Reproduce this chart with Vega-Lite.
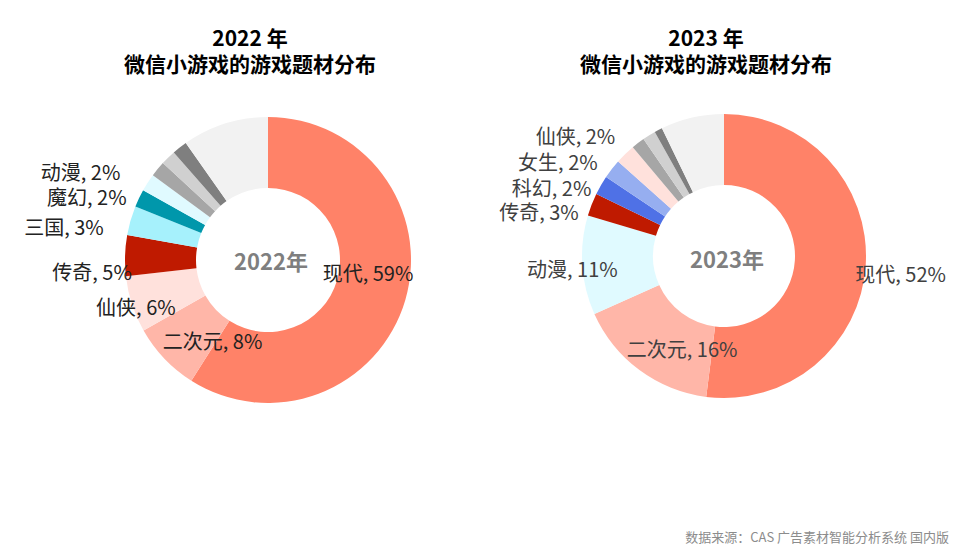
{
  "$schema": "https://vega.github.io/schema/vega-lite/v6.json",
  "padding": {"left": 5, "right": 5, "top": 29, "bottom": 5},
  "bounds": "flush",
  "spacing": 0,
  "background": "white",
  "config": {
    "view": {"stroke": null},
    "font": "Noto Sans CJK SC",
    "title": {"font": "Noto Sans CJK SC"},
    "text": {"font": "Noto Sans CJK SC"}
  },
  "title": {
    "text": "数据来源：CAS 广告素材智能分析系统 国内版",
    "orient": "bottom",
    "anchor": "end",
    "fontSize": 13,
    "fontWeight": "normal",
    "color": "#8c8c8c",
    "offset": 100,
    "dx": 3
  },
  "data": {
    "values": [
      {"year": 2022, "idx": 1, "category": "现代", "value": 59, "label": "现代, 59%"},
      {"year": 2022, "idx": 2, "category": "二次元", "value": 7.8, "label": "二次元, 8%"},
      {"year": 2022, "idx": 3, "category": "仙侠", "value": 6.4, "label": "仙侠, 6%"},
      {"year": 2022, "idx": 4, "category": "传奇", "value": 4.6, "label": "传奇, 5%"},
      {"year": 2022, "idx": 5, "category": "三国", "value": 3.3, "label": "三国, 3%"},
      {"year": 2022, "idx": 6, "category": "魔幻", "value": 2.0, "label": "魔幻, 2%"},
      {"year": 2022, "idx": 7, "category": "动漫", "value": 2.0, "label": "动漫, 2%"},
      {"year": 2022, "idx": 8, "category": "其他1", "value": 1.75, "label": ""},
      {"year": 2022, "idx": 9, "category": "其他2", "value": 1.7, "label": ""},
      {"year": 2022, "idx": 10, "category": "其他3", "value": 1.7, "label": ""},
      {"year": 2022, "idx": 11, "category": "其他4", "value": 9.75, "label": ""},
      {"year": 2023, "idx": 1, "category": "现代", "value": 52, "label": "现代, 52%"},
      {"year": 2023, "idx": 2, "category": "二次元", "value": 16.3, "label": "二次元, 16%"},
      {"year": 2023, "idx": 3, "category": "动漫", "value": 11.3, "label": "动漫, 11%"},
      {"year": 2023, "idx": 4, "category": "传奇", "value": 2.6, "label": "传奇, 3%"},
      {"year": 2023, "idx": 5, "category": "科幻", "value": 2.2, "label": "科幻, 2%"},
      {"year": 2023, "idx": 6, "category": "女生", "value": 2.2, "label": "女生, 2%"},
      {"year": 2023, "idx": 7, "category": "仙侠", "value": 2.3, "label": "仙侠, 2%"},
      {"year": 2023, "idx": 8, "category": "其他1", "value": 1.5, "label": ""},
      {"year": 2023, "idx": 9, "category": "其他2", "value": 1.5, "label": ""},
      {"year": 2023, "idx": 10, "category": "其他3", "value": 0.9, "label": ""},
      {"year": 2023, "idx": 11, "category": "其他4", "value": 7.2, "label": ""}
    ]
  },
  "hconcat": [
    {
      "width": 526,
      "height": 344,
      "title": {
        "text": ["2022 年", "微信小游戏的游戏题材分布"],
        "fontSize": 21,
        "lineHeight": 26,
        "fontWeight": "bold",
        "color": "#000000",
        "anchor": "middle",
        "dx": -18,
        "offset": 12
      },
      "layer": [
        {
          "transform": [{"filter": "datum.year == 2022"}],
          "mark": {"type": "arc", "outerRadius": 143, "innerRadius": 72},
          "encoding": {
            "theta": {"field": "value", "type": "quantitative", "stack": true},
            "order": {"field": "idx", "type": "quantitative"},
            "color": {
              "field": "category",
              "type": "nominal",
              "legend": null,
              "scale": {
                "domain": ["现代", "二次元", "仙侠", "传奇", "三国", "魔幻", "动漫", "科幻", "女生", "其他1", "其他2", "其他3", "其他4"],
                "range": ["#FF8268", "#FFB6A8", "#FFE1DC", "#BF1A00", "#A6F1FC", "#0097AB", "#E0FAFF", "#4F71E6", "#96AEF0", "#A6A6A6", "#D0D0D0", "#7F7F7F", "#F2F2F2"]
              }
            }
          }
        },
        {
          "transform": [{"filter": "datum.year == 2022"}],
          "mark": {
            "type": "text",
            "fontSize": 20,
            "color": "#222222",
            "align": "center",
            "baseline": "middle",
            "radius": {"expr": "({'现代':101,'二次元':100,'仙侠':141,'传奇':176,'三国':206,'魔幻':192,'动漫':205})[datum.category] || 0"},
            "dx": {"expr": "({'现代':3,'二次元':17,'仙侠':2,'传奇':0,'三国':-6,'魔幻':-8,'动漫':-15})[datum.category] || 0"},
            "dy": {"expr": "({'现代':-13,'二次元':14,'仙侠':5,'传奇':20,'三国':26,'魔幻':22,'动漫':25})[datum.category] || 0"}
          },
          "encoding": {
            "theta": {"field": "value", "type": "quantitative", "stack": true},
            "order": {"field": "idx", "type": "quantitative"},
            "text": {"field": "label", "type": "nominal"}
          }
        },
        {
          "data": {"values": [{"t": "2022年"}]},
          "mark": {"type": "text", "fontSize": 22, "fontWeight": "bold", "color": "#7F7F7F", "dx": 3, "dy": 3},
          "encoding": {"text": {"field": "t", "type": "nominal"}}
        }
      ]
    },
    {
      "width": 386,
      "height": 336,
      "title": {
        "text": ["2023 年", "微信小游戏的游戏题材分布"],
        "fontSize": 21,
        "lineHeight": 26,
        "fontWeight": "bold",
        "color": "#000000",
        "anchor": "middle",
        "dx": -18,
        "offset": 12
      },
      "layer": [
        {
          "transform": [{"filter": "datum.year == 2023"}],
          "mark": {"type": "arc", "outerRadius": 142, "innerRadius": 71},
          "encoding": {
            "theta": {"field": "value", "type": "quantitative", "stack": true},
            "order": {"field": "idx", "type": "quantitative"},
            "color": {
              "field": "category",
              "type": "nominal",
              "legend": null,
              "scale": {
                "domain": ["现代", "二次元", "仙侠", "传奇", "三国", "魔幻", "动漫", "科幻", "女生", "其他1", "其他2", "其他3", "其他4"],
                "range": ["#FF8268", "#FFB6A8", "#FFE1DC", "#BF1A00", "#A6F1FC", "#0097AB", "#E0FAFF", "#4F71E6", "#96AEF0", "#A6A6A6", "#D0D0D0", "#7F7F7F", "#F2F2F2"]
              }
            }
          }
        },
        {
          "transform": [{"filter": "datum.year == 2023"}],
          "mark": {
            "type": "text",
            "fontSize": 20,
            "color": "#404040",
            "align": "center",
            "baseline": "middle",
            "radius": {"expr": "({'现代':178,'二次元':104,'动漫':152,'传奇':190,'科幻':185,'女生':190,'仙侠':189})[datum.category] || 0"},
            "dx": {"expr": "({'现代':-1,'二次元':20,'动漫':0,'传奇':-8,'科幻':-12,'女生':-16,'仙侠':-17})[datum.category] || 0"},
            "dy": {"expr": "({'现代':9,'二次元':11,'动漫':5,'传奇':27,'科幻':26,'女生':24,'仙侠':18})[datum.category] || 0"}
          },
          "encoding": {
            "theta": {"field": "value", "type": "quantitative", "stack": true},
            "order": {"field": "idx", "type": "quantitative"},
            "text": {"field": "label", "type": "nominal"}
          }
        },
        {
          "data": {"values": [{"t": "2023年"}]},
          "mark": {"type": "text", "fontSize": 22, "fontWeight": "bold", "color": "#7F7F7F", "dx": 3, "dy": 5},
          "encoding": {"text": {"field": "t", "type": "nominal"}}
        }
      ]
    }
  ]
}
